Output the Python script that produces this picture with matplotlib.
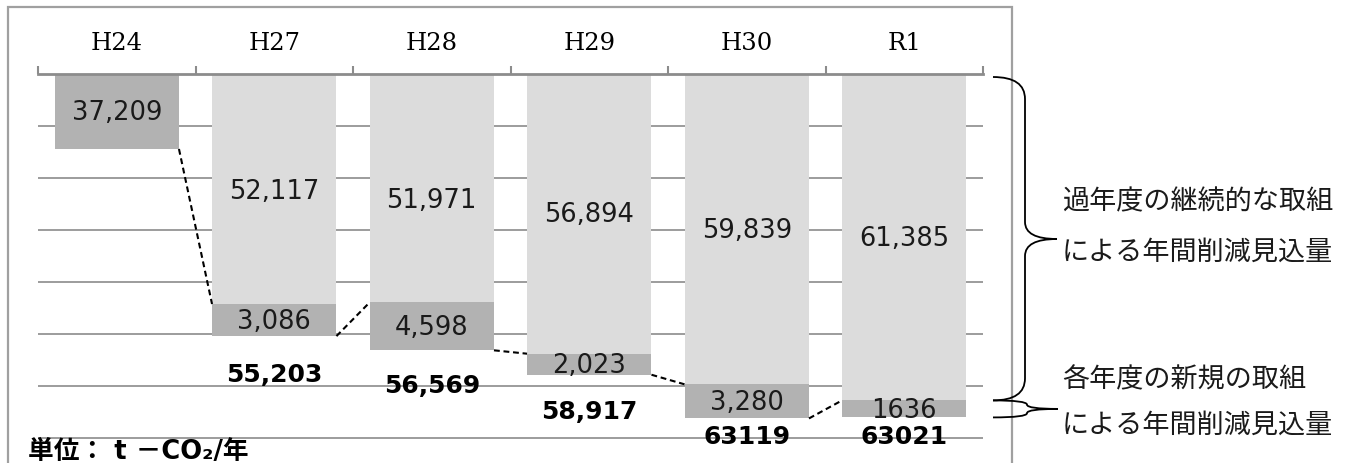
import matplotlib
matplotlib.use("Agg")
import matplotlib.pyplot as plt
from matplotlib.path import Path
from matplotlib.patches import PathPatch, Rectangle

# Fiscal years and reduction amounts (t-CO2 / year)
years = ["H24", "H27", "H28", "H29", "H30", "R1"]
continuing = [0, 52117, 51971, 56894, 59839, 61385]   # carried over from earlier years
new = [37209, 3086, 4598, 2023, 3280, 1636]            # newly started in each year
continuing_labels = ["", "52,117", "51,971", "56,894", "59,839", "61,385"]
new_labels = ["37,209", "3,086", "4,598", "2,023", "3,280", "1636"]
total_labels = ["", "55,203", "56,569", "58,917", "63119", "63021"]

W, H = 1347, 464
DPI = 100
LIGHT = "#dcdcdc"
DARK = "#b2b2b2"
GRID = "#9c9c9c"
AXIS = "#8c8c8c"
TEXT = "#1a1a1a"
JP = ["Noto Sans CJK JP", "DejaVu Sans"]

fig = plt.figure(figsize=(W / DPI, H / DPI), dpi=DPI)

# axes: value axis runs downward from 30,000 at the top spine
ax_left, ax_right, ax_top = 38, 983, 75
ax = fig.add_axes([ax_left / W, 0, (ax_right - ax_left) / W, (H - ax_top) / H])
units_per_px = 35000 / (439 - 75)
y_start = 30000
ax.set_ylim(y_start + (H - ax_top) * units_per_px, y_start)
ax.set_xlim(-0.5, len(years) - 0.5)

x = list(range(len(years)))
totals = [c + n for c, n in zip(continuing, new)]
bw = 0.79

ax.bar(x, continuing, width=bw, color=LIGHT, zorder=2)
ax.bar(x, new, bottom=continuing, width=bw, color=DARK, zorder=2)

# horizontal grid
ax.set_yticks(list(range(35000, 70000, 5000)))
ax.yaxis.grid(True, color=GRID, linewidth=1.4)
ax.set_axisbelow(True)
ax.tick_params(axis="y", left=False, labelleft=False)

for s in ["left", "right", "bottom"]:
    ax.spines[s].set_visible(False)
ax.spines["top"].set_color(AXIS)
ax.spines["top"].set_linewidth(2.0)

# category axis along the top
ax.xaxis.set_ticks_position("top")
ax.set_xticks([i - 0.5 for i in range(len(years) + 1)])
ax.set_xticks(x, minor=True)
ax.set_xticklabels([], minor=False)
ax.set_xticklabels(years, minor=True, fontfamily="DejaVu Serif", fontsize=17.5)
ax.tick_params(axis="x", which="major", direction="out", length=6, width=1.5,
               color=AXIS, labeltop=False, labelbottom=False)
ax.tick_params(axis="x", which="minor", length=0, pad=14.5, labeltop=True,
               labelbottom=False)

num_font = dict(fontfamily="DejaVu Sans", fontsize=18.5, color=TEXT,
                ha="center", va="center", zorder=4, textcoords="offset pixels")

# vertical nudges (pixels) for the carried-over labels
cont_shift = [0, -2, -12, 0, -1, -1]
for i in x:
    # carried-over amount, centred in the visible part of the light bar
    if continuing_labels[i]:
        yc = (y_start + continuing[i]) / 2
        ax.annotate(continuing_labels[i], (i, yc), xytext=(0, cont_shift[i]),
                    **num_font)
    # new amount, centred in the dark segment
    lo = max(continuing[i], y_start)
    ax.annotate(new_labels[i], (i, (lo + totals[i]) / 2), xytext=(0, -1),
                **num_font)

# bold totals under the bars
total_offsets = [0, 38, 35, 36, 18, 19]
for i in x:
    if total_labels[i]:
        ax.annotate(total_labels[i], (i, totals[i]), xytext=(0, -total_offsets[i]),
                    textcoords="offset pixels", ha="center", va="center",
                    fontfamily="DejaVu Sans", fontweight="bold", fontsize=18,
                    color="black", zorder=4, annotation_clip=False)

# dashed connectors: previous total -> current carried-over amount
for i in x[1:]:
    ax.plot([i - 1 + bw / 2, i - bw / 2], [totals[i - 1], continuing[i]],
            color="black", linewidth=1.5, linestyle=(0, (2.8, 1.8)), zorder=3)

# outer frame
fig.add_artist(Rectangle((8 / W, -0.2), (1012 - 8) / W, 1.2 - 8 / H,
                         transform=fig.transFigure, fill=False,
                         edgecolor="#a0a0a0", linewidth=1.6))


def to_fig(px, py_top):
    return (px / W, (H - py_top) / H)


def data_to_px(yval):
    disp = ax.transData.transform((0, yval))
    return H - disp[1]


def brace(x0, xm, xt, ytop, ybot, ytip, r_end, r_tip):
    r_end = min(r_end, (ytip - ytop) / 2, (ybot - ytip) / 2)
    r_tip = min(r_tip, (ytip - ytop) / 2, (ybot - ytip) / 2)
    pts = [
        (x0, ytop), (xm, ytop), (xm, ytop + r_end),
        (xm, ytip - r_tip),
        (xm, ytip), (xt, ytip),
        (xm, ytip), (xm, ytip + r_tip),
        (xm, ybot - r_end),
        (xm, ybot), (x0, ybot),
    ]
    codes = [Path.MOVETO, Path.CURVE3, Path.CURVE3, Path.LINETO,
             Path.CURVE3, Path.CURVE3, Path.CURVE3, Path.CURVE3,
             Path.LINETO, Path.CURVE3, Path.CURVE3]
    verts = [to_fig(px, py) for px, py in pts]
    fig.add_artist(PathPatch(Path(verts, codes), transform=fig.transFigure,
                             fill=False, edgecolor="black", linewidth=1.3))


y_top_px = data_to_px(y_start) + 3
y_mid_px = data_to_px(continuing[-1])
y_bot_px = data_to_px(totals[-1])
brace(993, 1025, 1057, y_top_px, y_mid_px, 240, 22, 17)
brace(993, 1027, 1058, y_mid_px, y_bot_px, (y_mid_px + y_bot_px) / 2, 8, 8)

jp_font = dict(fontfamily=JP, fontsize=19.5, color=TEXT, ha="left", va="center")
fig.text(*to_fig(1062, 202), "過年度の継続的な取組", **jp_font)
fig.text(*to_fig(1062, 252), "による年間削減見込量", **jp_font)
fig.text(*to_fig(1062, 380), "各年度の新規の取組", **jp_font)
fig.text(*to_fig(1062, 425), "による年間削減見込量", **jp_font)

fig.text(*to_fig(28, 452), "単位： t －CO₂/年",
         fontfamily=["DejaVu Sans", "Noto Sans CJK JP"], fontweight="bold",
         fontsize=18.5, color="black", ha="left", va="center")

fig.savefig("out.png", dpi=DPI)
